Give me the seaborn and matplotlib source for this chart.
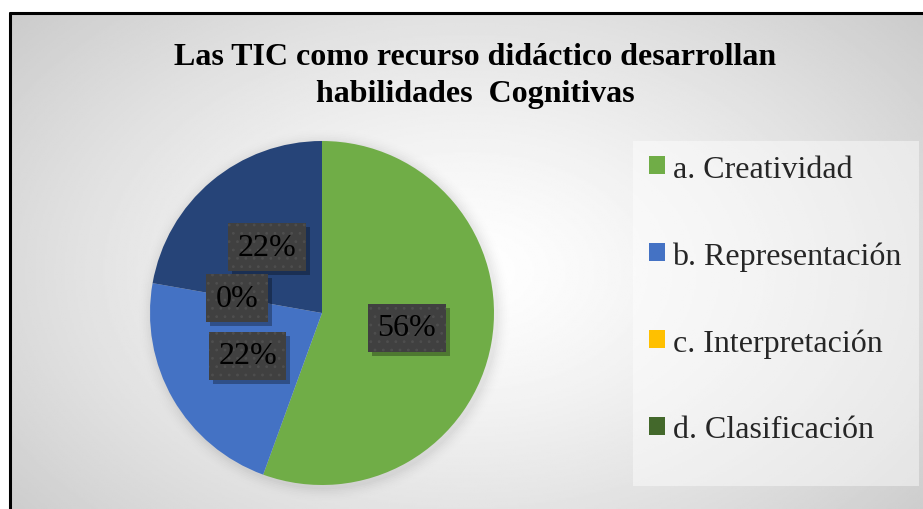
import numpy as np
import matplotlib
matplotlib.use("Agg")
import matplotlib.pyplot as plt
import matplotlib.patches as mpatches
import matplotlib.transforms as mtransforms
import seaborn as sns

# ---- Data ----
CATEGORIES = ["a. Creatividad", "b. Representación", "c. Interpretación", "d. Clasificación"]
COUNTS = [5, 2, 0, 2]
SLICE_COLORS = ["#70AD47", "#4472C4", "#FFC000", "#264478"]
LEGEND_COLORS = ["#70AD47", "#4472C4", "#FFC000", "#43682B"]
TITLE = "Las TIC como recurso didáctico desarrollan\nhabilidades  Cognitivas"

sns.set_theme(style="white")
plt.rcParams["font.family"] = ["Liberation Serif", "DejaVu Serif"]
plt.rcParams["hatch.linewidth"] = 0.8

W, H = 923, 510
fig = plt.figure(figsize=(W / 100, H / 100), dpi=100)
fig.patch.set_facecolor("white")

# ---- Background with radial gradient ----
bg = fig.add_axes([11 / W, 0, 1 - 11 / W, (H - 15) / H])
yy, xx = np.mgrid[0:1:300j, 0:1:500j]
r = np.sqrt(((xx - 0.5) / 0.75) ** 2 + ((yy - 0.52) / 0.9) ** 2)
shade = 1.0 - 0.24 * np.clip(r, 0, 1) ** 1.3
bg.imshow(shade, cmap="gray", vmin=0, vmax=1, aspect="auto", extent=[0, 1, 0, 1])
bg.axis("off")

# border (top + left)
fig.add_artist(plt.Line2D([10 / W, 10 / W], [0, (H - 14) / H], color="black", lw=2.2,
                          transform=fig.transFigure))
fig.add_artist(plt.Line2D([10 / W, 1], [(H - 14) / H, (H - 14) / H], color="black", lw=2.2,
                          transform=fig.transFigure))

# ---- Title ----
fig.text(475 / W, (H - 76) / H, TITLE, ha="center", va="center", fontsize=23,
         fontweight="bold", linespacing=1.4, color="black")

# ---- Legend panel ----
panel = mpatches.Rectangle((633 / W, (H - 487) / H), (919 - 633) / W, (487 - 142) / H,
                           transform=fig.transFigure, facecolor="white", alpha=0.45,
                           edgecolor="none")
fig.add_artist(panel)

# ---- Pie ----
cx, cy, rad = 322, 314, 172
ax = fig.add_axes([(cx - rad) / W, (H - cy - rad) / H, 2 * rad / W, 2 * rad / H])
ax.patch.set_visible(False)

# soft shadow behind pie
for i, a in enumerate(np.linspace(0.05, 0.01, 8)):
    ax.add_patch(mpatches.Circle((0.015, -0.015), 1.0 + 0.01 * (i + 1), color="black",
                                 alpha=a * 0.35, lw=0, clip_on=False))

wedges, texts, autotexts = ax.pie(
    COUNTS, colors=SLICE_COLORS, startangle=90, counterclock=False,
    autopct="%.0f%%", pctdistance=0.5, radius=1.0,
    wedgeprops=dict(linewidth=0), textprops=dict(fontsize=23, color="black"),
)
ax.set_xlim(-1, 1)
ax.set_ylim(-1, 1)
ax.axis("off")

shadow_off = mtransforms.offset_copy(ax.transData, fig=fig, x=4, y=-4, units="dots")
for t in autotexts:
    x, y = t.get_position()
    ax.text(x, y, t.get_text(), ha="center", va="center", fontsize=23, alpha=0,
            transform=shadow_off, zorder=4,
            bbox=dict(boxstyle="square,pad=0.3", facecolor="black", alpha=0.3,
                      edgecolor="none"))
    t.set_zorder(5)
    t.set_bbox(dict(boxstyle="square,pad=0.3", facecolor="#404040", edgecolor="#4e4e4e",
                    linewidth=0, hatch=".."))

# ---- Legend ----
handles = [mpatches.Patch(facecolor=c, edgecolor="none") for c in LEGEND_COLORS]
fig.legend(handles, CATEGORIES, loc="upper left", bbox_to_anchor=(623 / W, (H - 130) / H),
           frameon=False, fontsize=23, handlelength=0.5, handleheight=0.5,
           handletextpad=0.25, labelspacing=1.8, borderpad=0.3)

fig.savefig("out.png", dpi=100)
